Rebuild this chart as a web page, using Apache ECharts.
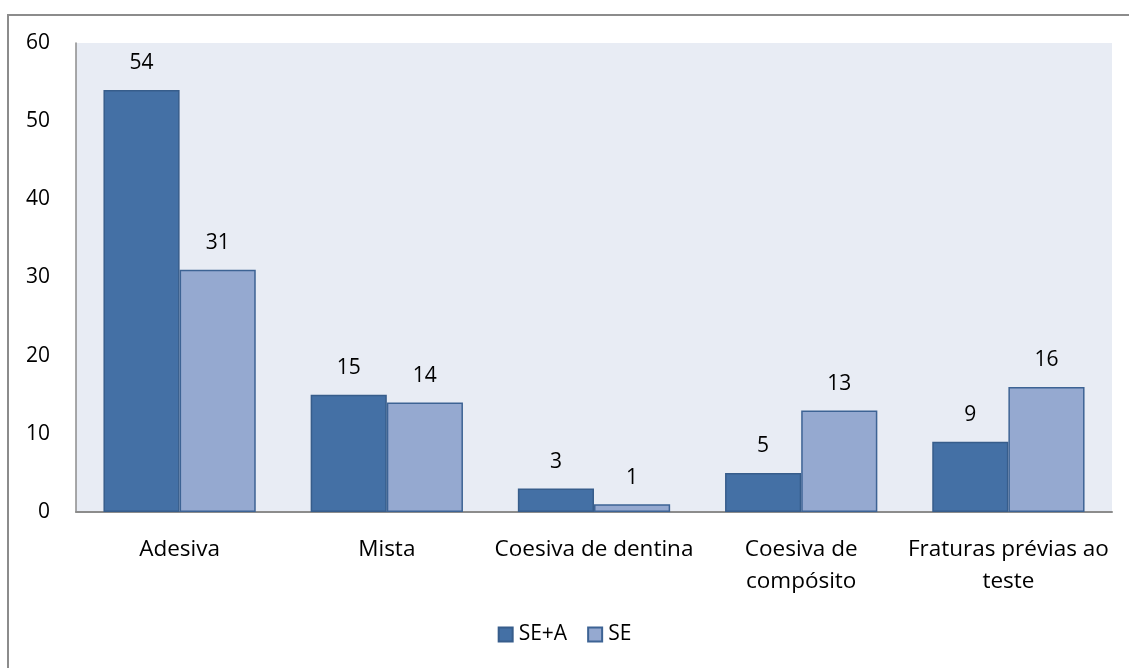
<!DOCTYPE html>
<html><head><meta charset="utf-8">
<script src="https://cdn.jsdelivr.net/npm/echarts@6/dist/echarts.min.js"></script>
<style>
html,body{margin:0;padding:0;background:#fff;overflow:hidden;}
#frame{position:absolute;left:7px;top:14px;width:1140px;height:700px;border-left:2px solid #8c8c8c;border-top:2px solid #8c8c8c;}
#c{position:absolute;left:0;top:0;width:1129px;height:668px;}
</style></head>
<body>
<div id="frame"></div>
<div id="c"></div>
<script>
const categories = ['Adesiva','Mista','Coesiva de dentina','Coesiva de\ncompósito','Fraturas prévias ao\nteste'];
const seriesNames = ['SE+A','SE'];
const seA = [54,15,3,5,9];
const se = [31,14,1,13,16];
const yTicks = [0,10,20,30,40,50,60];

const chart = echarts.init(document.getElementById('c'));
const font = '"Open Sans", sans-serif';
chart.setOption({
  animation:false,
  textStyle:{fontFamily:font},
  grid:{left:76,right:17,top:43,bottom:156,backgroundColor:'#e8ecf4',show:true,borderWidth:0},
  legend:{bottom:18,left:'center',icon:'rect',itemWidth:14,itemHeight:14,itemGap:20,
    textStyle:{fontSize:21,color:'#000',fontFamily:font,padding:[0,0,0,1]},
    data:seriesNames},
  xAxis:{type:'category',data:categories,
    axisLine:{lineStyle:{color:'#8c8c8c',width:2}},axisTick:{show:false},
    axisLabel:{fontSize:22.5,color:'#000',margin:22,lineHeight:32,interval:0}},
  yAxis:{type:'value',min:yTicks[0],max:yTicks[yTicks.length-1],interval:10,
    axisLine:{show:true,lineStyle:{color:'#8c8c8c',width:1.5}},axisTick:{show:false},
    splitLine:{show:false},
    axisLabel:{fontSize:21,color:'#000',margin:26}},
  series:[
    {name:seriesNames[0],type:'bar',data:seA,barGap:'0%',barCategoryGap:'26.5%',
     itemStyle:{color:'#4470a5',borderColor:'#375d8b',borderWidth:1.5},
     label:{show:true,position:'top',distance:16,fontSize:21,color:'#000'}},
    {name:seriesNames[1],type:'bar',data:se,
     itemStyle:{color:'#95a9d0',borderColor:'#3d6394',borderWidth:1.5},
     label:{show:true,position:'top',distance:16,fontSize:21,color:'#000'}}
  ]
});
</script>
</body></html>
